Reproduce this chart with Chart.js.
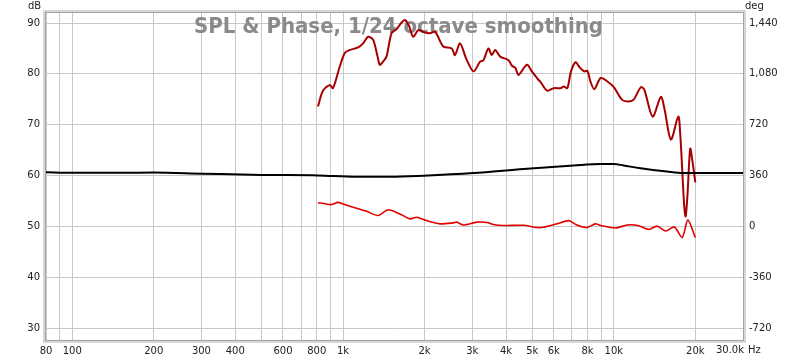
<!DOCTYPE html>
<html>
<head>
<meta charset="utf-8">
<script src="https://cdn.jsdelivr.net/npm/chart.js@4.4.1/dist/chart.umd.min.js"></script>
<style>
  html, body { margin: 0; padding: 0; background: #fff; }
</style>
</head>
<body>
<canvas id="myChart" width="800" height="360"></canvas>
<script>
// SPL (dB, left axis)
const splFreq = [808, 843, 893, 918, 972, 1015, 1059, 1137, 1186, 1238, 1292, 1340, 1367, 1400, 1447, 1511, 1577, 1640, 1693, 1750, 1817, 1896, 1990, 2095, 2188, 2346, 2520, 2590, 2705, 2850, 3031, 3209, 3300, 3443, 3544, 3647, 3806, 4086, 4204, 4330, 4447, 4776, 4980, 5275, 5350, 5673, 5997, 6355, 6540, 6734, 6950, 7230, 7445, 7762, 7987, 8200, 8475, 8948, 9472, 10000, 10735, 11360, 11860, 12590, 12960, 13910, 14920, 15400, 16250, 17300, 17600, 17890, 18200, 18420, 18700, 19150, 19500, 20000];
const splDb = [73.6, 76.7, 77.8, 77.2, 81.4, 84.1, 84.7, 85.2, 86.0, 87.3, 86.7, 83.5, 81.8, 82.3, 83.4, 88.0, 88.8, 90.0, 90.6, 89.5, 87.3, 88.6, 88.2, 88.0, 88.3, 85.4, 85.0, 83.7, 86.0, 83.0, 80.5, 82.4, 82.7, 85.0, 83.7, 84.7, 83.4, 82.7, 81.6, 81.2, 79.8, 81.8, 80.5, 78.8, 78.5, 76.7, 77.2, 77.2, 77.5, 77.2, 80.5, 82.3, 81.4, 80.5, 80.6, 78.5, 77.0, 79.2, 78.5, 77.4, 74.9, 74.6, 75.0, 77.4, 76.9, 71.6, 75.5, 73.0, 67.1, 71.6, 68.0, 61.2, 54.0, 52.0, 56.0, 65.3, 63.0, 58.7];

// Phase (deg, right axis)
const phaseFreq = [808, 850, 906, 958, 1000, 1059, 1221, 1348, 1468, 1622, 1767, 1870, 2036, 2280, 2557, 2630, 2782, 3118, 3397, 3594, 3911, 4640, 5200, 5500, 6165, 6812, 7302, 7960, 8540, 8950, 10146, 11200, 12270, 13470, 14430, 15580, 16730, 17890, 18770, 20000];
const phaseDeg = [167, 163, 155, 171, 160, 144, 108, 78, 119, 89, 54, 66, 42, 19, 26, 31, 11, 31, 29, 14, 7, 9, -7, -5, 19, 42, 11, -7, 19, 7, -10, 11, 7, -21, 3, -32, -3, -78, 47, -78];

// black reference curve (dB, left axis)
const refFreq = [80, 100, 150, 200, 300, 500, 808, 1120, 1500, 1980, 3030, 4640, 7100, 9000, 10000, 10870, 12560, 15700, 18000, 30000];
const refDb = [60.65, 60.55, 60.55, 60.6, 60.4, 60.15, 60.05, 59.8, 59.8, 60.0, 60.5, 61.3, 62.0, 62.3, 62.3, 62.0, 61.45, 60.8, 60.5, 60.5];

// axes
const dbTicks = [30, 40, 50, 60, 70, 80, 90];
const degTicks = [-720, -360, 0, 360, 720, 1080, 1440];
const freqGrid = [80, 90, 100, 200, 300, 400, 500, 600, 700, 800, 900, 1000, 2000, 3000, 4000, 5000, 6000, 7000, 8000, 9000, 10000, 20000, 30000];
const freqLabelValues = [80, 100, 200, 300, 400, 600, 800, 1000, 2000, 3000, 4000, 5000, 6000, 8000, 10000, 20000];
const freqLabelTexts = ['80', '100', '200', '300', '400', '600', '800', '1k', '2k', '3k', '4k', '5k', '6k', '8k', '10k', '20k'];

const toPoints = (xs, ys) => xs.map((x, i) => ({ x: x, y: ys[i] }));
const tickFont = { family: 'DejaVu Sans', size: 10 };

const decor = {
  id: 'decor',
  beforeDatasetsDraw(chart) {
    const ctx = chart.ctx;
    const title = 'SPL & Phase, 1/24 octave smoothing';
    ctx.save();
    ctx.font = 'bold 20.5px "DejaVu Sans"';
    const w = ctx.measureText(title).width;
    // squeeze a little to fit the reference width
    ctx.translate(398.5, 33);
    ctx.scale(409 / w, 1);
    ctx.fillStyle = '#8a8a8a';
    ctx.textAlign = 'center';
    ctx.textBaseline = 'alphabetic';
    ctx.fillText(title, 0, 0);
    ctx.restore();
  },
  afterDraw(chart) {
    const ctx = chart.ctx;
    const a = chart.chartArea;
    ctx.save();
    // frame
    ctx.strokeStyle = '#d6d6d6';
    ctx.lineWidth = 3;
    ctx.strokeRect(a.left - 1.5, a.top - 1.5, a.right - a.left + 3, a.bottom - a.top + 3);
    ctx.strokeStyle = '#a4a4a4';
    ctx.lineWidth = 1;
    ctx.strokeRect(a.left - 0.5, a.top - 0.5, a.right - a.left + 1, a.bottom - a.top + 1);
    // unit labels
    ctx.font = '10px "DejaVu Sans"';
    ctx.fillStyle = '#222';
    ctx.textBaseline = 'middle';
    ctx.textAlign = 'left';
    ctx.fillText('dB', 28, 6);
    ctx.fillText('deg', 745, 6);
    ctx.textAlign = 'right';
    ctx.fillText('30.0k', 744, 350);
    ctx.textAlign = 'left';
    ctx.fillText('Hz', 748, 350);
    ctx.restore();
  }
};

new Chart(document.getElementById('myChart'), {
  type: 'line',
  data: {
    datasets: [
      {
        label: 'Ref',
        data: toPoints(refFreq, refDb),
        borderColor: '#000000',
        borderWidth: 2,
        pointRadius: 0,
        tension: 0.4,
        cubicInterpolationMode: 'monotone',
        yAxisID: 'y'
      },
      {
        label: 'Phase',
        data: toPoints(phaseFreq, phaseDeg),
        borderColor: '#e00000',
        borderWidth: 1.6,
        pointRadius: 0,
        tension: 0.25,
        yAxisID: 'y2'
      },
      {
        label: 'SPL',
        data: toPoints(splFreq, splDb),
        borderColor: '#a80000',
        borderWidth: 2,
        pointRadius: 0,
        tension: 0.3,
        yAxisID: 'y'
      }
    ]
  },
  options: {
    responsive: false,
    animation: false,
    layout: { padding: { top: 13, left: 0, right: 0, bottom: 0 } },
    plugins: {
      legend: { display: false },
      tooltip: { enabled: false },
      title: { display: false }
    },
    scales: {
      x: {
        type: 'logarithmic',
        min: 80,
        max: 30000,
        border: { display: false },
        grid: { color: '#c8c8c8', lineWidth: 1, drawTicks: false },
        afterBuildTicks: (scale) => { scale.ticks = freqGrid.map(v => ({ value: v })); },
        afterFit: (scale) => { scale.height = 20; },
        ticks: {
          autoSkip: false,
          maxRotation: 0,
          minRotation: 0,
          padding: 5,
          color: '#222',
          font: tickFont,
          callback: (v) => {
            const i = freqLabelValues.indexOf(v);
            return i >= 0 ? freqLabelTexts[i] : '';
          }
        }
      },
      y: {
        position: 'left',
        min: 27.7,
        max: 91.97,
        border: { display: false },
        grid: { color: '#c8c8c8', lineWidth: 1, drawTicks: false },
        afterBuildTicks: (scale) => { scale.ticks = dbTicks.map(v => ({ value: v })); },
        afterFit: (scale) => { scale.width = 46; },
        ticks: { padding: 6, color: '#222', font: tickFont }
      },
      y2: {
        position: 'right',
        min: -803,
        max: 1511,
        border: { display: false },
        grid: { display: false, drawTicks: false },
        afterBuildTicks: (scale) => { scale.ticks = degTicks.map(v => ({ value: v })); },
        afterFit: (scale) => { scale.width = 57; },
        ticks: {
          padding: 6,
          color: '#222',
          font: tickFont,
          callback: (v) => v.toLocaleString('en-US')
        }
      }
    }
  },
  plugins: [decor]
});
</script>
</body>
</html>
